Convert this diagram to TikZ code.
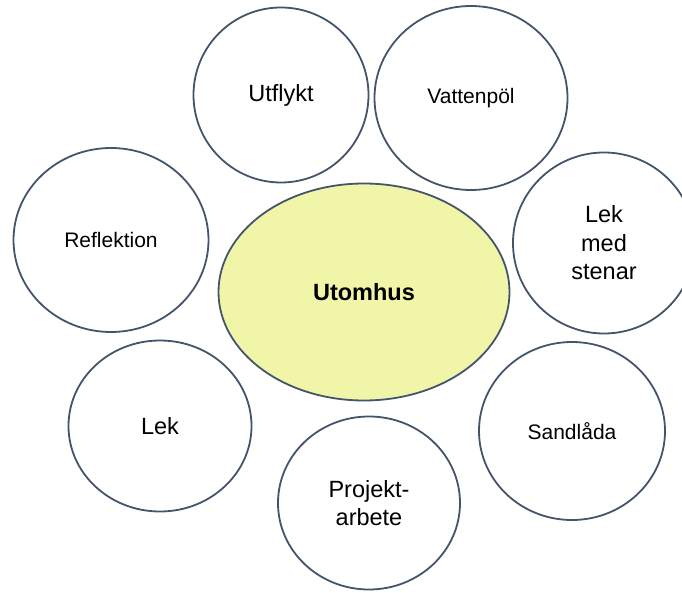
\documentclass[tikz,border=0pt]{standalone}
\usepackage{fontspec}
\setmainfont{Liberation Sans}
\usetikzlibrary{shapes.geometric}
\definecolor{rimblue}{RGB}{68,84,106}
\definecolor{hubfill}{RGB}{241,245,167}
\begin{document}
\begin{tikzpicture}[x=1pt,y=-1pt,
  bubble/.style={ellipse,draw=rimblue,line width=1.8pt,inner sep=0pt,align=center,font=\fontsize{23.5}{28.5}\selectfont},
  small/.style={font=\fontsize{21}{25}\selectfont}]
\useasboundingbox (0,0) rectangle (682,593);
\node[bubble,fill=hubfill,minimum width=291pt,minimum height=217pt,font=\fontsize{23.5}{28.5}\selectfont\bfseries] (utomhus) at (364,292) {Utomhus};
\node[bubble,minimum width=175pt,minimum height=175pt] (utflykt) at (281,95) {Utflykt};
\node[bubble,small,minimum width=193pt,minimum height=184pt] (vattenpol) at (471,98) {Vattenpöl};
\node[bubble,minimum width=182pt,minimum height=181pt] (stenar) at (604,243) {Lek\\med\\stenar};
\node[bubble,small,minimum width=195pt,minimum height=184pt] (reflektion) at (111,240) {Reflektion};
\node[bubble,minimum width=183pt,minimum height=171pt] (lek) at (160,426) {Lek};
\node[bubble,minimum width=182pt,minimum height=173pt] (projekt) at (369,503) {Projekt-\\arbete};
\node[bubble,small,minimum width=186pt,minimum height=178pt] (sandlada) at (572,431) {Sandlåda};
\end{tikzpicture}
\end{document}
